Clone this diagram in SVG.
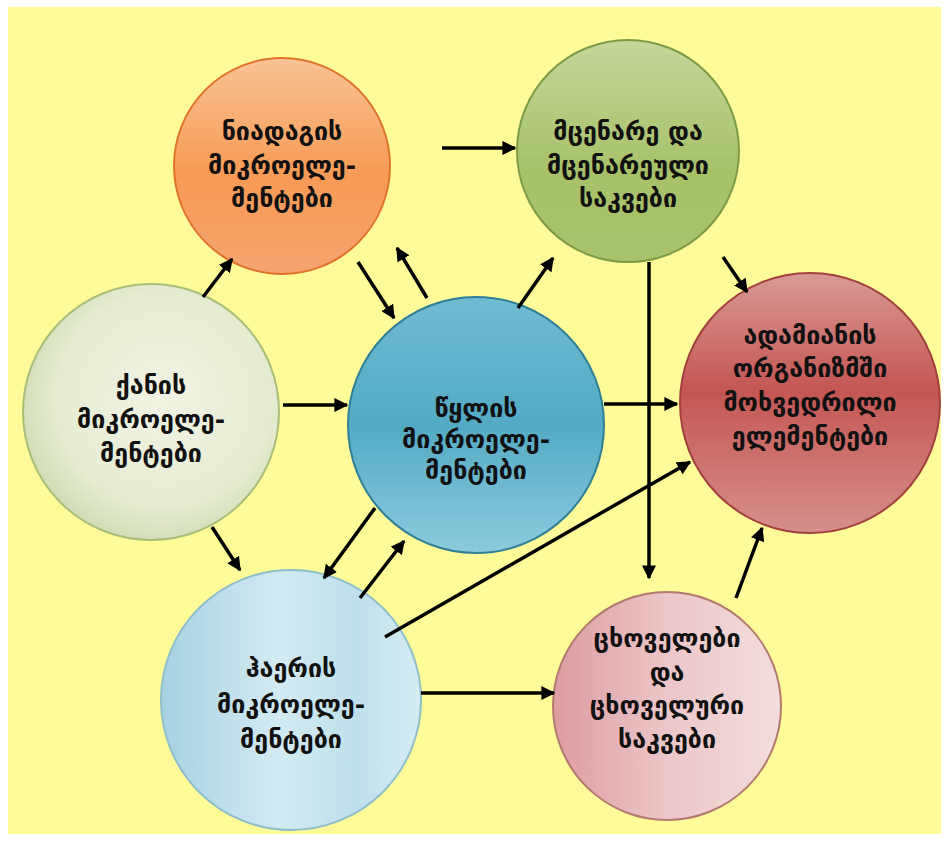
<svg xmlns="http://www.w3.org/2000/svg" width="949" height="843" viewBox="0 0 949 843">
<defs>
<style>
.lbl{font-family:"DejaVu Sans","Noto Sans",sans-serif;font-weight:bold;font-size:25px;fill:#111;text-anchor:middle;dominant-baseline:middle}
.con line{stroke:#000;stroke-width:3.5;marker-end:url(#ah)}
</style>
<marker id="ah" viewBox="0 0 10 10" refX="9" refY="5" markerWidth="4" markerHeight="4" orient="auto" markerUnits="strokeWidth">
<path d="M0,0 L10,5 L0,10 z" fill="#000"/>
</marker>
<linearGradient id="gOr" x1="0" y1="0" x2="0" y2="1">
<stop offset="0" stop-color="#F9C394"/><stop offset="0.55" stop-color="#F79A55"/><stop offset="1" stop-color="#F6A470"/>
</linearGradient>
<linearGradient id="gGr" x1="0" y1="0" x2="0" y2="1">
<stop offset="0" stop-color="#C5D69C"/><stop offset="0.6" stop-color="#A6C168"/><stop offset="1" stop-color="#A9C36C"/>
</linearGradient>
<linearGradient id="gRd" x1="0" y1="0" x2="0" y2="1">
<stop offset="0" stop-color="#D99A96"/><stop offset="0.45" stop-color="#C45653"/><stop offset="1" stop-color="#D68F8C"/>
</linearGradient>
<radialGradient id="gLg" cx="0.55" cy="0.45" r="0.6">
<stop offset="0" stop-color="#F1F3E3"/><stop offset="0.7" stop-color="#E6ECD2"/><stop offset="1" stop-color="#CDD9B0"/>
</radialGradient>
<linearGradient id="gBl" x1="0" y1="0" x2="0" y2="1">
<stop offset="0" stop-color="#70BBD2"/><stop offset="0.5" stop-color="#53AAC4"/><stop offset="1" stop-color="#8CCBDD"/>
</linearGradient>
<linearGradient id="gLb" x1="0" y1="0" x2="1" y2="0">
<stop offset="0" stop-color="#A6D2E2"/><stop offset="0.45" stop-color="#D3EAF2"/><stop offset="0.75" stop-color="#BFE0EB"/><stop offset="1" stop-color="#D6ECF3"/>
</linearGradient>
<linearGradient id="gPk" x1="0" y1="0" x2="1" y2="0">
<stop offset="0" stop-color="#DC9CA2"/><stop offset="0.5" stop-color="#ECC6C8"/><stop offset="1" stop-color="#F3DEDD"/>
</linearGradient>
</defs>
<rect width="949" height="843" fill="#fff"/>
<rect x="8" y="7" width="933" height="827" fill="#FFFB99"/>

<g id="n-soil">
<circle cx="282" cy="166" r="108" fill="url(#gOr)" stroke="#E0732A" stroke-width="2"/>
<text class="lbl" x="282" y="133">ნიადაგის</text>
<text class="lbl" x="282" y="167">მიკროელე-</text>
<text class="lbl" x="282" y="200">მენტები</text>
</g>
<g id="n-plant">
<circle cx="628" cy="151" r="111" fill="url(#gGr)" stroke="#7E9B45" stroke-width="2"/>
<text class="lbl" x="628" y="133">მცენარე და</text>
<text class="lbl" x="628" y="167">მცენარეული</text>
<text class="lbl" x="628" y="200">საკვები</text>
</g>
<g id="n-human">
<circle cx="810" cy="403" r="130" fill="url(#gRd)" stroke="#A2403D" stroke-width="2"/>
<text class="lbl" x="810" y="337">ადამიანის</text>
<text class="lbl" x="810" y="370">ორგანიზმში</text>
<text class="lbl" x="810" y="404">მოხვედრილი</text>
<text class="lbl" x="810" y="438">ელემენტები</text>
</g>
<g id="n-rock">
<circle cx="151" cy="412" r="128" fill="url(#gLg)" stroke="#A9BE78" stroke-width="2"/>
<text class="lbl" x="151" y="387">ქანის</text>
<text class="lbl" x="151" y="421">მიკროელე-</text>
<text class="lbl" x="151" y="455">მენტები</text>
</g>
<g id="n-water">
<circle cx="476" cy="425" r="128" fill="url(#gBl)" stroke="#2F7F96" stroke-width="2"/>
<text class="lbl" x="476" y="410">წყლის</text>
<text class="lbl" x="476" y="441">მიკროელე-</text>
<text class="lbl" x="476" y="472">მენტები</text>
</g>
<g id="n-air">
<circle cx="291" cy="700" r="130" fill="url(#gLb)" stroke="#8FBFCB" stroke-width="2"/>
<text class="lbl" x="291" y="670">ჰაერის</text>
<text class="lbl" x="291" y="706">მიკროელე-</text>
<text class="lbl" x="291" y="741">მენტები</text>
</g>
<g id="n-animal">
<circle cx="667" cy="706" r="114" fill="url(#gPk)" stroke="#B27A6E" stroke-width="2"/>
<text class="lbl" x="667" y="640">ცხოველები</text>
<text class="lbl" x="667" y="674">და</text>
<text class="lbl" x="667" y="707">ცხოველური</text>
<text class="lbl" x="667" y="741">საკვები</text>
</g>

<g id="connectors" class="con">
<line x1="203" y1="297" x2="232" y2="259"/>
<line x1="358" y1="262" x2="394" y2="318"/>
<line x1="427" y1="298" x2="397" y2="248"/>
<line x1="518" y1="308" x2="553" y2="258"/>
<line x1="442" y1="148" x2="515" y2="148"/>
<line x1="723" y1="257" x2="747" y2="292"/>
<line x1="649" y1="262" x2="649" y2="578"/>
<line x1="604" y1="404" x2="677" y2="404"/>
<line x1="385" y1="637" x2="690" y2="462"/>
<line x1="736" y1="598" x2="762" y2="528"/>
<line x1="212" y1="527" x2="240" y2="570"/>
<line x1="375" y1="508" x2="324" y2="578"/>
<line x1="360" y1="598" x2="404" y2="541"/>
<line x1="283" y1="405" x2="347" y2="405"/>
<line x1="421" y1="693" x2="554" y2="693"/>
</g>
</svg>
